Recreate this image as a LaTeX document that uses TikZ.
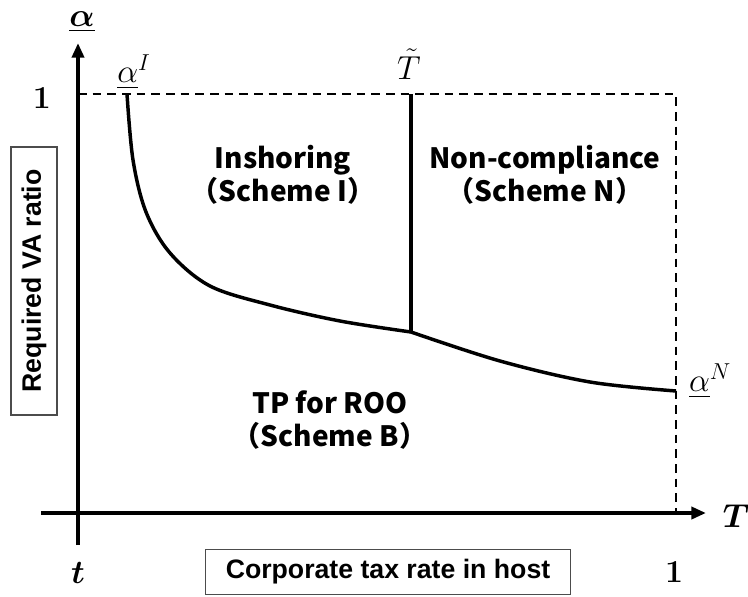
\documentclass[tikz,border=0pt]{standalone}
\usepackage{amsmath}
\usepackage{fontspec}
\usetikzlibrary{arrows.meta}
\newfontfamily\arialfont{Liberation Sans}
\newfontfamily\jpfont{Noto Sans CJK JP}

\begin{document}
\begin{tikzpicture}[x=0.75pt,y=-0.75pt,thick,
   axe/.style={line width=3pt,-{Triangle[length=11pt,width=9pt]}},
   bord/.style={line width=1.5pt,dash pattern=on 6.5pt off 4.5pt},
   courbe/.style={line width=2.6pt},
   zone/.style={font=\jpfont\fontsize{21}{25}\selectfont\bfseries,align=center},
   boite/.style={draw=black!70,line width=0.8pt,font=\arialfont\fontsize{20}{24}\selectfont\bfseries,inner sep=4pt},
   mathlab/.style={font=\fontsize{24}{28}\selectfont,inner sep=1pt}]

  \useasboundingbox (0,0) rectangle (748,596);

  \coordinate (ybas) at (78,545);
  \coordinate (yhaut) at (78,43);
  \coordinate (xgauche) at (41,513);
  \coordinate (xdroite) at (706,513);
  \coordinate (hg) at (78,94);
  \coordinate (hd) at (676,94);
  \coordinate (bd) at (676,513);
  \coordinate (ttop) at (411,94);
  \coordinate (tbas) at (411,332);

  \draw[bord] (hg) -- (hd) -- (bd);
  \draw[axe] (ybas) -- (yhaut);
  \draw[axe] (xgauche) -- (xdroite);

  \draw[courbe] plot[smooth,tension=0.55] coordinates {(127,94) (133,160) (146,212) (170,253) (210,286) (270,305) (340,321) (411,332)};
  \draw[courbe] plot[smooth,tension=0.55] coordinates {(411,332) (500,361) (590,382) (676,391)};
  \draw[courbe] (ttop) -- (tbas);

  \node[mathlab] (alpha) at (82,22) {$\underline{\boldsymbol{\alpha}}$};
  \node[mathlab] (un) at (42,98) {\textbf{1}};
  \node[mathlab] (alphaI) at (134,72) {$\underline{\alpha}^{I}$};
  \node[mathlab] (ttilde) at (409,64) {$\tilde{T}$};
  \node[mathlab] (alphaN) at (710,381) {$\underline{\alpha}^{N}$};
  \node[mathlab] (tgrand) at (736,516) {$\boldsymbol{T}$};
  \node[mathlab] (tpetit) at (78,573) {$\boldsymbol{t}$};
  \node[mathlab] (undroite) at (674,572) {\textbf{1}};

  \node[zone] (inshore) at (283,175) {Inshoring\\（Scheme I）};
  \node[zone] (noncomp) at (545,175) {Non-compliance\\（Scheme N）};
  \node[zone] (tproo) at (330,420) {TP for ROO\\（Scheme B）};

  \node[boite,rotate=90,minimum width=268pt*0.75,minimum height=46pt*0.75] (vaboite) at (34,281) {Required VA ratio};
  \node[boite,minimum width=365pt*0.75,minimum height=45pt*0.75] (taxboite) at (388,572) {Corporate tax rate in host};
\end{tikzpicture}
\end{document}
